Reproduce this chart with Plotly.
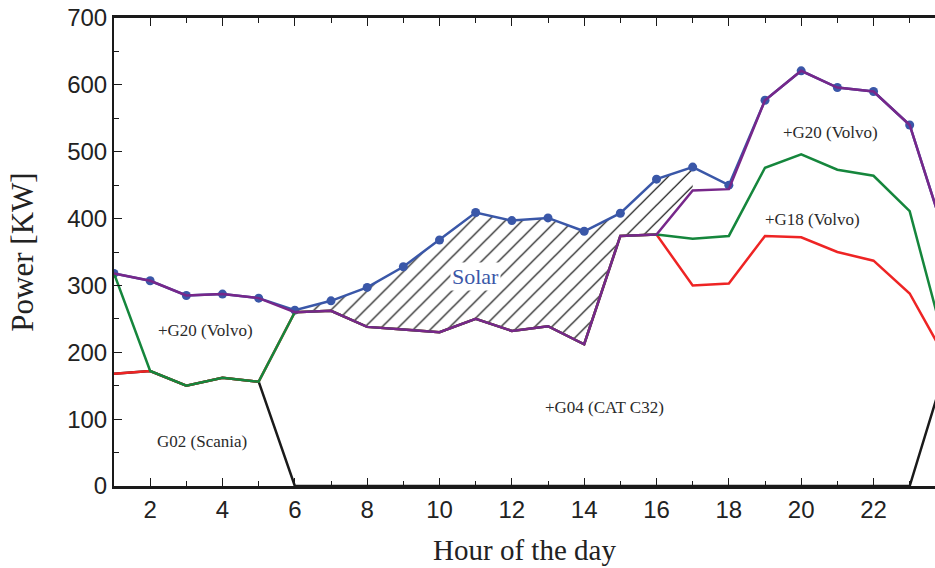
import plotly.graph_objects as go

hours = list(range(1, 25))
total_solar = [318, 307, 285, 287, 281, 263, 277, 297, 328, 368, 409, 397, 401, 381, 408, 459, 477, 450, 577, 621, 596, 590, 540, 371]
g20_volvo = [318, 307, 285, 287, 281, 260, 262, 238, 234, 230, 250, 232, 239, 212, 374, 376, 442, 444, 577, 621, 596, 590, 540, 371]
g18_volvo = [318, 172, 150, 162, 156, 260, 262, 238, 234, 230, 250, 232, 239, 212, 374, 376, 370, 374, 476, 496, 473, 464, 411, 207]
g04_cat = [168, 172, 150, 162, 156, 260, 262, 238, 234, 230, 250, 232, 239, 212, 374, 376, 300, 303, 374, 372, 350, 337, 288, 191]
g02_scania = [168, 172, 150, 162, 156, 0, 0, 0, 0, 0, 0, 0, 0, 0, 0, 0, 0, 0, 0, 0, 0, 0, 0, 177]
solar_span = (6, 17)  # hours with hatched solar area

labels = [
    ("+G20 (Volvo)", 3.53, 233),
    ("G02 (Scania)", 3.42, 67),
    ("+G04 (CAT C32)", 14.55, 117),
    ("+G18 (Volvo)", 20.32, 399),
    ("+G20 (Volvo)", 20.82, 529),
]
solar_label = ("Solar", 10.99, 314)

BLUE = "#3a57a8"
PURPLE = "#77278a"
GREEN = "#15863c"
RED = "#ee2424"
BLACK = "#1a1a1a"
SERIF = "Liberation Serif, Times New Roman, serif"
SANS = "Liberation Sans, Arial, sans-serif"

fig = go.Figure()

i0 = hours.index(solar_span[0])
i1 = hours.index(solar_span[1]) + 1
fig.add_trace(go.Scatter(x=hours[i0:i1], y=g20_volvo[i0:i1], mode="lines",
                         line=dict(width=0, color="rgba(0,0,0,0)"), showlegend=False, hoverinfo="skip"))
fig.add_trace(go.Scatter(x=hours[i0:i1], y=total_solar[i0:i1], mode="lines",
                         line=dict(width=0, color="rgba(0,0,0,0)"), fill="tonexty",
                         fillcolor="rgba(0,0,0,0)",
                         fillpattern=dict(shape="/", fgcolor="#000000", fgopacity=1,
                                          bgcolor="rgba(255,255,255,0)", fillmode="replace",
                                          size=12, solidity=0.1),
                         showlegend=False, hoverinfo="skip"))

fig.add_trace(go.Scatter(x=hours, y=total_solar, mode="lines+markers", name="Solar",
                         line=dict(color=BLUE, width=2.5), marker=dict(color=BLUE, size=9)))
fig.add_trace(go.Scatter(x=hours, y=g02_scania, mode="lines", name="G02 (Scania)",
                         line=dict(color=BLACK, width=2.5)))
fig.add_trace(go.Scatter(x=hours, y=g04_cat, mode="lines", name="+G04 (CAT C32)",
                         line=dict(color=RED, width=2.5)))
fig.add_trace(go.Scatter(x=hours, y=g18_volvo, mode="lines", name="+G18 (Volvo)",
                         line=dict(color=GREEN, width=2.5)))
fig.add_trace(go.Scatter(x=hours, y=g20_volvo, mode="lines", name="+G20 (Volvo)",
                         line=dict(color=PURPLE, width=2.5)))

for text, x, y in labels:
    fig.add_annotation(x=x, y=y, text=text, showarrow=False,
                       font=dict(family=SERIF, size=17, color="#2a2a2a"))
fig.add_annotation(x=solar_label[1], y=solar_label[2], text=solar_label[0], showarrow=False,
                   bgcolor="white", borderpad=1,
                   font=dict(family=SERIF, size=22, color=BLUE))

fig.update_layout(
    width=935, height=568,
    margin=dict(l=114, r=0, t=18, b=82),
    paper_bgcolor="white", plot_bgcolor="white",
    showlegend=False,
    xaxis=dict(range=[1, 23.7], tickmode="array", tickvals=list(range(2, 24, 2)),
               ticks="inside", ticklen=8, tickwidth=1.2, tickcolor=BLACK,
               minor=dict(dtick=1, tick0=1, ticks="inside", ticklen=5, tickwidth=1, tickcolor=BLACK),
               showline=True, linecolor=BLACK, linewidth=2.8, mirror="ticks",
               showgrid=False, zeroline=False,
               tickfont=dict(family=SANS, size=24, color="#222222"),
               title=dict(text="Hour of the day", font=dict(family=SERIF, size=29, color="#222222"),
                          standoff=18)),
    yaxis=dict(range=[0, 700], tickvals=list(range(0, 701, 100)),
               ticks="inside", ticklen=8, tickwidth=1.2, tickcolor=BLACK,
               minor=dict(dtick=50, ticks="inside", ticklen=5, tickwidth=1, tickcolor=BLACK),
               showline=True, linecolor=BLACK, linewidth=2, mirror=False,
               showgrid=False, zeroline=False,
               tickfont=dict(family=SANS, size=24, color="#222222"),
               title=dict(text="Power [KW]", font=dict(family=SERIF, size=31, color="#222222"),
                          standoff=24)),
)

fig.write_html("out.html")
